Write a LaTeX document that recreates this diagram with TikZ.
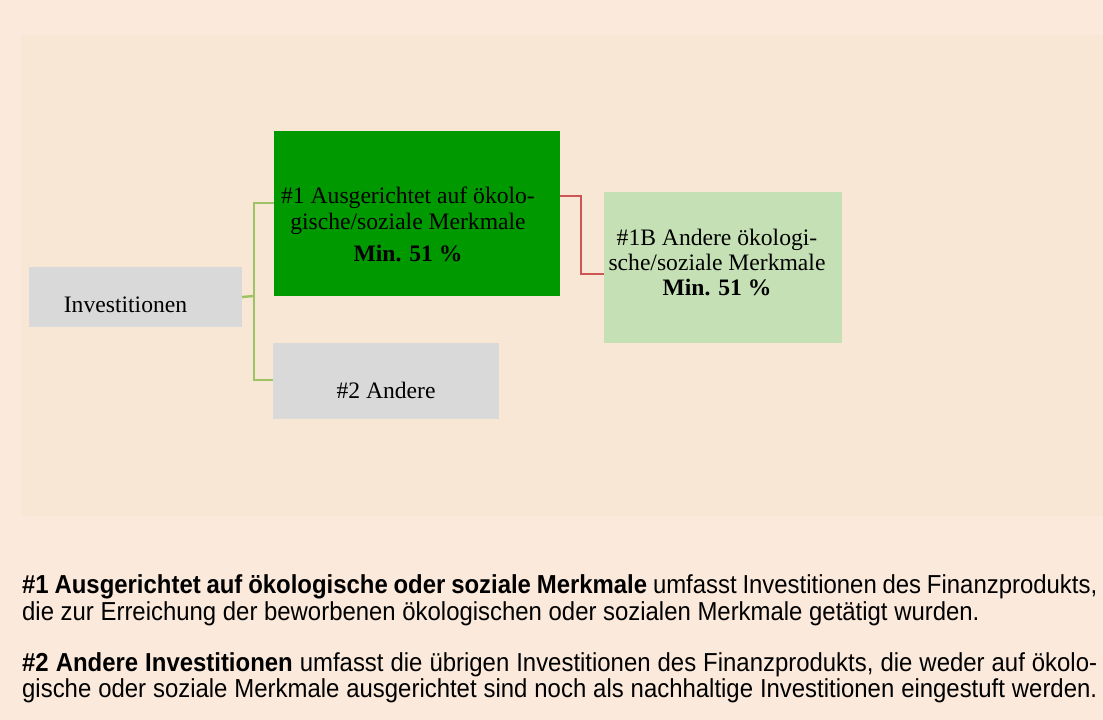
\documentclass[tikz,border=0pt]{standalone}
\usepackage{fontspec}
\setmainfont{Liberation Serif}
\newfontfamily\bodysans[FakeStretch=0.92]{Liberation Sans}
\usetikzlibrary{calc}
\definecolor{outerbg}{HTML}{FBE9DB}
\definecolor{innerbg}{HTML}{F8E7D5}
\definecolor{boxgray}{HTML}{D9D9D9}
\definecolor{boxgreen}{HTML}{009900}
\definecolor{boxlight}{HTML}{C5E0B4}
\definecolor{lineg}{HTML}{9EC364}
\definecolor{liner}{HTML}{CC5555}
\tikzset{
  box/.style={draw=none, inner sep=0pt, outer sep=0pt},
  gline/.style={draw=lineg, line width=2.4pt},
  rline/.style={draw=liner, line width=2.4pt},
  dtext/.style={anchor=base, inner sep=0pt, font=\fontsize{23.6}{25}\selectfont},
  dbold/.style={anchor=base, inner sep=0pt, font=\fontsize{23.6}{25}\selectfont\bfseries},
  btext/.style={anchor=base west, inner sep=0pt, font=\bodysans\fontsize{26}{28}\selectfont},
}
\begin{document}
\begin{tikzpicture}[x=1pt,y=-1pt]
\fill[outerbg] (0,0) rectangle (1103,720);
\fill[innerbg] (21,35) rectangle (1103,516);
\useasboundingbox (0,0) rectangle (1103,720);

\node[box, fill=boxgray, minimum width=213pt, minimum height=60pt] (inv) at (135.5,297) {};
\node[box, fill=boxgreen, minimum width=286pt, minimum height=165pt] (g1) at (417,213.5) {};
\node[box, fill=boxgray, minimum width=226pt, minimum height=76pt] (a2) at (386,381) {};
\node[box, fill=boxlight, minimum width=238pt, minimum height=151pt] (b1) at (723,267.5) {};

\coordinate (j) at (254,296);
\coordinate (rk) at (581,196);
\draw[gline] (inv.east) -- (j);
\draw[gline] ($(g1.west)+(0,-10.5)$) -| (j) |- ($(a2.west)+(0,-1)$);
\draw[rline] ($(g1.east)+(0,-17.5)$) -- (rk) |- ($(b1.west)+(0,6.5)$);

\node[dtext] (tinv) at (125.5,312) {Investitionen};
\node[dtext] (tg1a) at (408,203) {\#1 Ausgerichtet auf ökolo-};
\node[dtext] (tg1b) at (408,229) {gische/soziale Merkmale};
\node[dbold] (tg1c) at (408,261) {Min. 51 \%};
\node[dtext] (tb1a) at (717,245) {\#1B Andere ökologi-};
\node[dtext] (tb1b) at (717,270) {sche/soziale Merkmale};
\node[dbold] (tb1c) at (717,295) {Min. 51 \%};
\node[dtext] (ta2) at (386,398) {\#2 Andere};

\node[btext] (l1) at (22,593) {\makebox[1075pt][s]{\textbf{\#1 Ausgerichtet auf ökologische oder soziale Merkmale} umfasst Investitionen des Finanzprodukts,}};
\node[btext] (l2) at (22,620) {die zur Erreichung der beworbenen ökologischen oder sozialen Merkmale getätigt wurden.};
\node[btext] (l3) at (22,671) {\makebox[1075pt][s]{\textbf{\#2 Andere Investitionen} umfasst die übrigen Investitionen des Finanzprodukts, die weder auf ökolo-}};
\node[btext] (l4) at (22,697) {\makebox[1075pt][s]{gische oder soziale Merkmale ausgerichtet sind noch als nachhaltige Investitionen eingestuft werden.}};
\end{tikzpicture}
\end{document}
